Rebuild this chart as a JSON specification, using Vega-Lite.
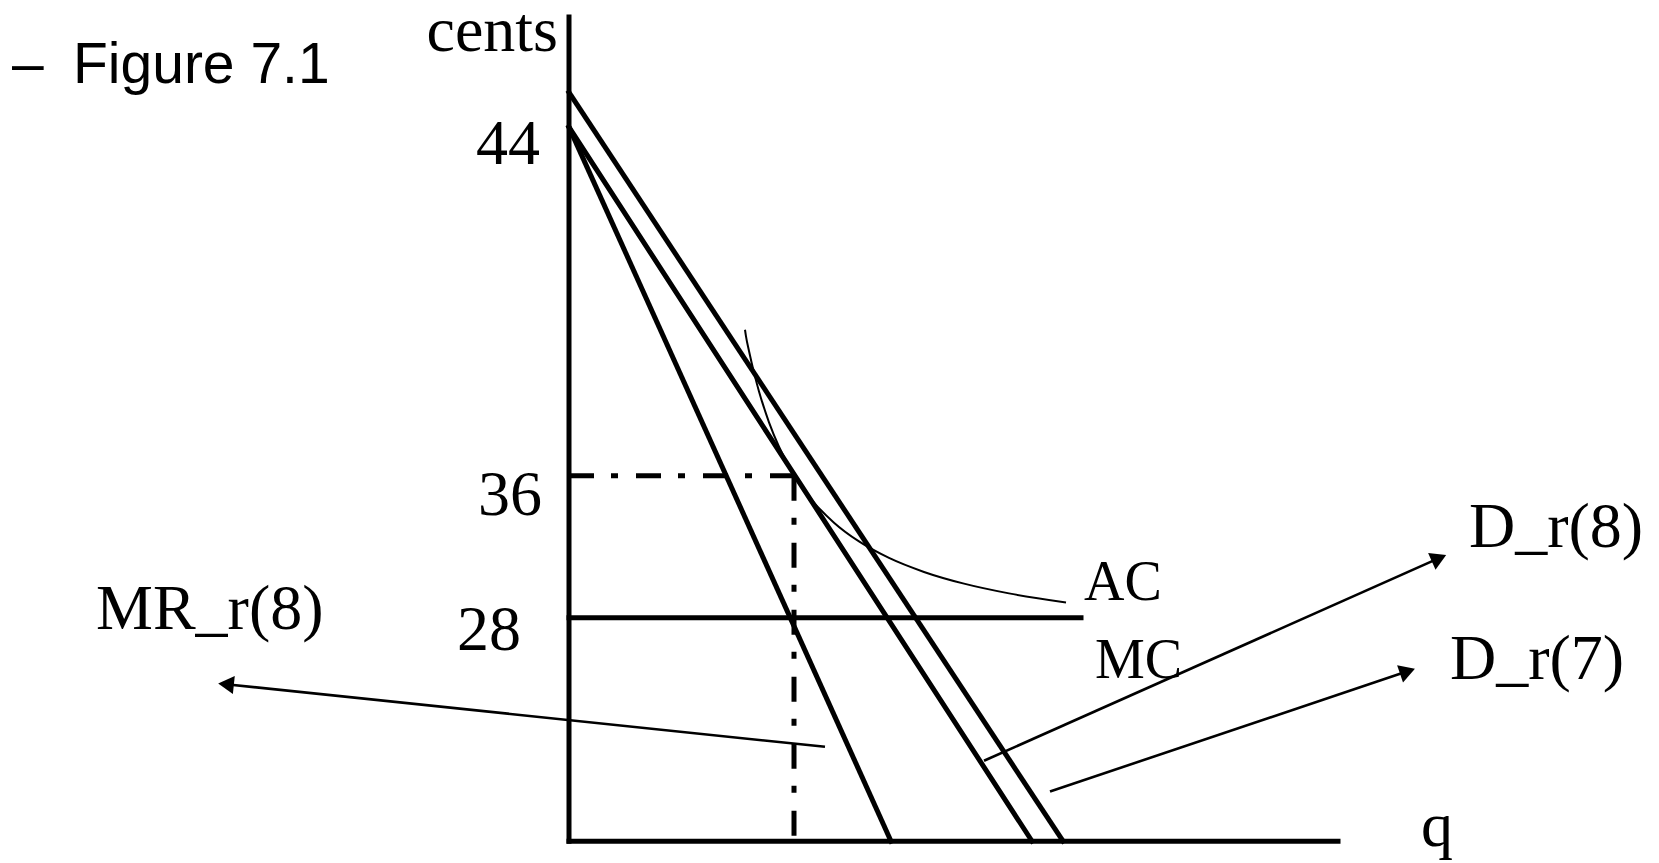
{
  "$schema": "https://vega.github.io/schema/vega-lite/v6.json",
  "width": 1659,
  "height": 863,
  "autosize": {"type": "fit", "contains": "padding"},
  "padding": 0,
  "background": "white",
  "config": {"view": {"stroke": null}},
  "datasets": {
    "thick": [
      {"id": "yaxis", "k": 0, "q": 0, "p": 0},
      {"id": "yaxis", "k": 1, "q": 0, "p": 83.0},
      {"id": "xaxis", "k": 0, "q": 0, "p": 0},
      {"id": "xaxis", "k": 1, "q": 76.9, "p": 0},
      {"id": "D8", "k": 0, "q": 0, "p": 75.4},
      {"id": "D8", "k": 1, "q": 49.4, "p": 0},
      {"id": "D7", "k": 0, "q": 0, "p": 71.9},
      {"id": "D7", "k": 1, "q": 46.3, "p": 0},
      {"id": "MR", "k": 0, "q": 0, "p": 71.9},
      {"id": "MR", "k": 1, "q": 32.2, "p": 0},
      {"id": "MC", "k": 0, "q": 0, "p": 22.5},
      {"id": "MC", "k": 1, "q": 51.2, "p": 22.5}
    ],
    "dashdot": [
      {"id": "h36", "k": 0, "q": 0, "p": 36.8},
      {"id": "h36", "k": 1, "q": 22.5, "p": 36.8},
      {"id": "v", "k": 0, "q": 22.5, "p": 36.8},
      {"id": "v", "k": 1, "q": 22.5, "p": 0}
    ],
    "ac": [
      {"q": 17.6, "p": 51.5},
      {"q": 17.7, "p": 50.83},
      {"q": 18.0, "p": 49.36},
      {"q": 18.5, "p": 47.18},
      {"q": 19.0, "p": 45.29},
      {"q": 20.0, "p": 42.18},
      {"q": 21.0, "p": 39.72},
      {"q": 22.0, "p": 37.74},
      {"q": 23.0, "p": 36.09},
      {"q": 24.5, "p": 34.10},
      {"q": 26.5, "p": 32.07},
      {"q": 29.0, "p": 30.18},
      {"q": 32.0, "p": 28.52},
      {"q": 35.5, "p": 27.11},
      {"q": 39.5, "p": 25.93},
      {"q": 44.0, "p": 24.95},
      {"q": 49.7, "p": 24.04}
    ],
    "arrows": [
      {"id": "MR", "k": 0, "q": 25.6, "p": 9.5},
      {"id": "MR", "k": 1, "q": -34.3, "p": 15.8},
      {"id": "D8", "k": 0, "q": 41.5, "p": 8.1},
      {"id": "D8", "k": 1, "q": 87.0, "p": 28.5},
      {"id": "D7", "k": 0, "q": 48.1, "p": 5.0},
      {"id": "D7", "k": 1, "q": 83.85, "p": 17.1}
    ],
    "headL": [{"q": -34.3, "p": 15.8}],
    "headD8": [{"q": 87.0, "p": 28.5}],
    "headD7": [{"q": 83.85, "p": 17.1}],
    "serif": [
      {"t": "cents", "q": -1.1, "p": 79.6},
      {"t": "44", "q": -2.9, "p": 68.2},
      {"t": "36", "q": -2.7, "p": 32.8},
      {"t": "28", "q": -4.8, "p": 19.2}
    ],
    "serifL": [
      {"t": "MR_r(8)", "q": -47.3, "p": 21.4},
      {"t": "D_r(8)", "q": 90.0, "p": 29.6},
      {"t": "D_r(7)", "q": 88.1, "p": 16.3},
      {"t": "q", "q": 85.2, "p": -0.5}
    ],
    "small": [
      {"t": "AC", "q": 51.5, "p": 24.3},
      {"t": "MC", "q": 52.6, "p": 16.4}
    ],
    "sans": [
      {"t": "–", "q": -55.7, "p": 76.3},
      {"t": "Figure 7.1", "q": -49.6, "p": 76.3}
    ]
  },
  "encoding": {
    "x": {"field": "q", "type": "quantitative", "scale": {"domain": [-56.9, 109.0], "nice": false, "zero": false}, "axis": null},
    "y": {"field": "p", "type": "quantitative", "scale": {"domain": [-2.2, 84.1], "nice": false, "zero": false}, "axis": null}
  },
  "layer": [
    {
      "data": {"name": "thick"},
      "mark": {"type": "line", "color": "black", "strokeWidth": 5, "strokeCap": "square"},
      "encoding": {"detail": {"field": "id"}, "order": {"field": "k"}}
    },
    {
      "data": {"name": "dashdot"},
      "mark": {"type": "line", "color": "black", "strokeWidth": 5, "strokeDash": [25, 17, 7, 18]},
      "encoding": {"detail": {"field": "id"}, "order": {"field": "k"}}
    },
    {
      "data": {"name": "ac"},
      "mark": {"type": "line", "color": "black", "strokeWidth": 2, "interpolate": "monotone"},
      "encoding": {"order": {"field": "q"}}
    },
    {
      "data": {"name": "arrows"},
      "mark": {"type": "line", "color": "black", "strokeWidth": 2.6},
      "encoding": {"detail": {"field": "id"}, "order": {"field": "k"}}
    },
    {
      "data": {"name": "headL"},
      "mark": {"type": "point", "shape": "triangle-left", "filled": true, "color": "black", "opacity": 1, "size": 330, "angle": 6}
    },
    {
      "data": {"name": "headD8"},
      "mark": {"type": "point", "shape": "triangle-right", "filled": true, "color": "black", "opacity": 1, "size": 330, "angle": -24}
    },
    {
      "data": {"name": "headD7"},
      "mark": {"type": "point", "shape": "triangle-right", "filled": true, "color": "black", "opacity": 1, "size": 330, "angle": -19}
    },
    {
      "data": {"name": "serif"},
      "mark": {"type": "text", "font": "Liberation Serif", "fontSize": 64, "align": "right", "baseline": "alphabetic", "color": "black"},
      "encoding": {"text": {"field": "t"}}
    },
    {
      "data": {"name": "serifL"},
      "mark": {"type": "text", "font": "Liberation Serif", "fontSize": 64, "align": "left", "baseline": "alphabetic", "color": "black"},
      "encoding": {"text": {"field": "t"}}
    },
    {
      "data": {"name": "small"},
      "mark": {"type": "text", "font": "Liberation Serif", "fontSize": 56, "align": "left", "baseline": "alphabetic", "color": "black"},
      "encoding": {"text": {"field": "t"}}
    },
    {
      "data": {"name": "sans"},
      "mark": {"type": "text", "font": "Liberation Sans", "fontSize": 57, "align": "left", "baseline": "alphabetic", "color": "black"},
      "encoding": {"text": {"field": "t"}}
    }
  ]
}
